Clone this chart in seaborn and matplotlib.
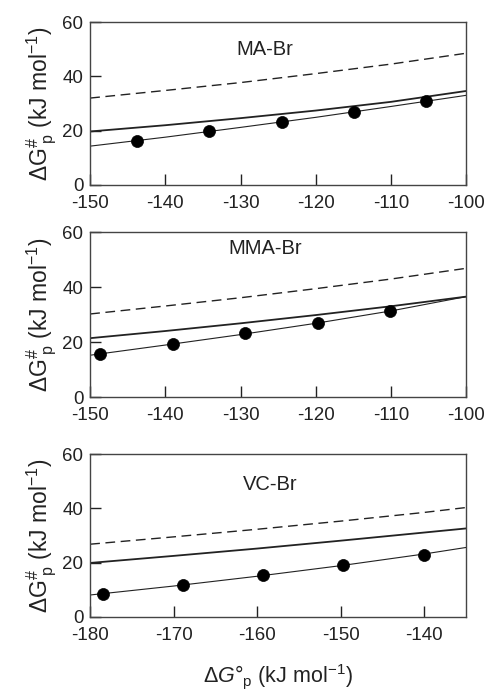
import numpy as np
import pandas as pd
import matplotlib
matplotlib.use("Agg")
import matplotlib.pyplot as plt
import seaborn as sns

# ---------------- data ----------------
panel_names = ["MA-Br", "MMA-Br", "VC-Br"]

# experimental points
ma_pts_x = [-143.8, -134.2, -124.5, -114.9, -105.3]
ma_pts_y = [16.3, 19.7, 23.3, 26.9, 30.8]
mma_pts_x = [-148.7, -139.0, -129.4, -119.7, -110.1]
mma_pts_y = [15.6, 19.3, 23.1, 27.0, 31.4]
vc_pts_x = [-178.5, -168.9, -159.3, -149.7, -140.0]
vc_pts_y = [8.6, 11.9, 15.3, 19.1, 22.8]

# curves
ma_cx = [-150, -140, -130, -120, -110, -100]
ma_fit = [14.3, 17.6, 21.2, 24.9, 28.9, 33.0]
ma_solid = [19.7, 22.0, 24.6, 27.4, 30.6, 34.6]
ma_dash = [32.0, 34.8, 37.7, 41.0, 44.5, 48.5]

mma_cx = [-150, -140, -130, -120, -110, -100]
mma_fit = [15.2, 18.9, 22.7, 26.8, 31.3, 36.5]
mma_solid = [21.4, 24.0, 26.8, 29.8, 33.0, 36.5]
mma_dash = [30.2, 33.1, 36.1, 39.4, 42.9, 46.8]

vc_cx = [-180, -170, -160, -150, -140, -135]
vc_fit = [8.1, 11.4, 15.0, 18.9, 23.2, 25.6]
vc_solid = [19.9, 22.5, 25.2, 28.1, 31.1, 32.6]
vc_dash = [26.8, 29.5, 32.3, 35.3, 38.5, 40.3]

xlims = [(-150, -100), (-150, -100), (-180, -135)]
xticks = [[-150, -140, -130, -120, -110, -100],
          [-150, -140, -130, -120, -110, -100],
          [-180, -170, -160, -150, -140]]
yticks = [0, 20, 40, 60]

# ---------------- style ----------------
sns.set_style("ticks")
plt.rcParams['font.family'] = ['Liberation Sans', 'DejaVu Sans']
plt.rcParams['axes.unicode_minus'] = False
plt.rcParams['mathtext.fontset'] = 'custom'
plt.rcParams['mathtext.rm'] = 'Liberation Sans'
plt.rcParams['mathtext.it'] = 'Liberation Sans:italic'
plt.rcParams['mathtext.bf'] = 'Liberation Sans:bold'

fig = plt.figure(figsize=(4.85, 6.92), dpi=100)
positions = [[0.186, 0.7327, 0.775, 0.2355],
             [0.186, 0.4263, 0.775, 0.2384],
             [0.186, 0.1084, 0.775, 0.2355]]
title_pos = [(0.465, 0.83), (0.465, 0.90), (0.48, 0.81)]

panels = [
    (ma_pts_x, ma_pts_y, ma_cx, ma_fit, ma_solid, ma_dash),
    (mma_pts_x, mma_pts_y, mma_cx, mma_fit, mma_solid, mma_dash),
    (vc_pts_x, vc_pts_y, vc_cx, vc_fit, vc_solid, vc_dash),
]

ink = "#222222"
for i, (px, py, cx, fit, solid, dash) in enumerate(panels):
    ax = fig.add_axes(positions[i])
    curves = pd.DataFrame({"x": cx, "fit": fit, "solid": solid, "dash": dash})
    sns.lineplot(data=curves, x="x", y="dash", ax=ax, color=ink, lw=1.0,
                 linestyle=(0, (7, 4)))
    sns.lineplot(data=curves, x="x", y="solid", ax=ax, color=ink, lw=1.3)
    sns.lineplot(data=curves, x="x", y="fit", ax=ax, color=ink, lw=0.8)
    pts = pd.DataFrame({"x": px, "y": py})
    sns.scatterplot(data=pts, x="x", y="y", ax=ax, color="black", s=75,
                    edgecolor="black", linewidth=0.5, zorder=5)
    ax.set_xlim(*xlims[i])
    ax.set_ylim(0, 60)
    ax.set_xticks(xticks[i])
    ax.set_yticks(yticks)
    ax.tick_params(direction="in", length=8, width=1, labelsize=13.5,
                   colors=ink, pad=5)
    ax.tick_params(axis="x", pad=7)
    for sp in ax.spines.values():
        sp.set_color("#444444")
        sp.set_linewidth(1.0)
    ax.set_xlabel("")
    ax.set_ylabel(r"$\Delta\mathrm{G}^{\#}_{\ \mathrm{p}}$ (kJ mol$^{-1}$)", fontsize=16.5,
                  color=ink, labelpad=2)
    ax.text(title_pos[i][0], title_pos[i][1], panel_names[i], transform=ax.transAxes,
            ha="center", va="center", fontsize=14.5, color=ink)
    if i == 2:
        ax.set_xlabel(r"$\Delta G°_{\mathrm{p}}$ (kJ mol$^{-1}$)", fontsize=15.5,
                      color=ink, labelpad=13)

fig.savefig("out.png", dpi=100)
